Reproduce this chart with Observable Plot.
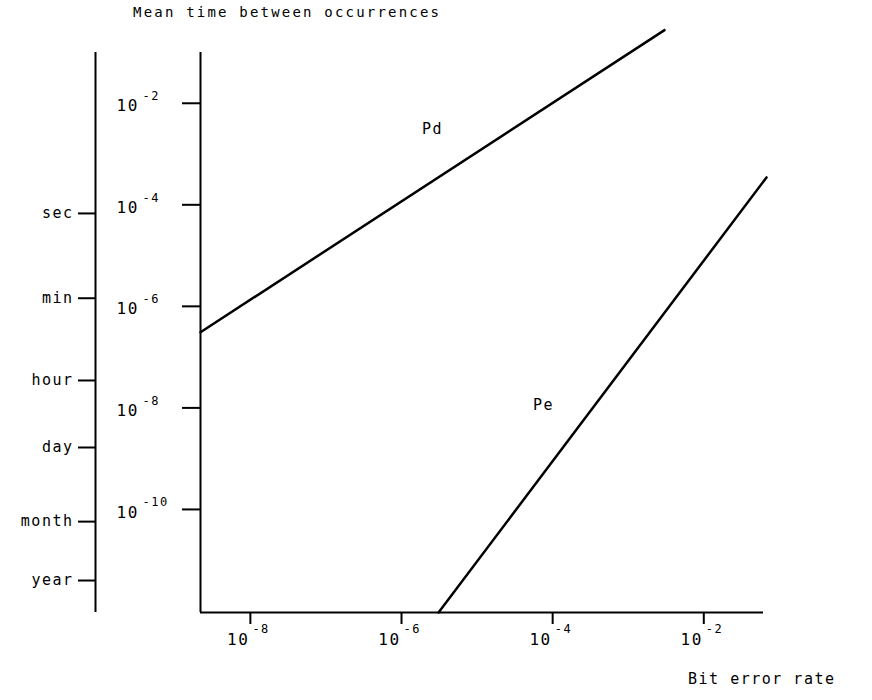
<!DOCTYPE html>
<html><head><meta charset="utf-8">
<script src="https://cdn.jsdelivr.net/npm/d3@7"></script>
<script src="https://cdn.jsdelivr.net/npm/@observablehq/plot@0.6"></script>
<style>
body{margin:0;background:#fff;font-family:"DejaVu Sans Mono",monospace;color:#000;}
#title{height:26px;padding-left:133px;font-size:14px;letter-spacing:2.2px;line-height:25px;white-space:nowrap;}
#chart svg{display:block;}
</style></head><body>
<div id="title">Mean time between occurrences</div>
<div id="chart"></div>
<script>
// Data
const berTicks = [1e-8, 1e-6, 1e-4, 1e-2];
const probTicks = [1e-2, 1e-4, 1e-6, 1e-8, 1e-10];
const timeLabels = ["sec", "min", "hour", "day", "month", "year"];
const timeProb = [10**-4.17, 10**-5.84, 10**-7.46, 10**-8.78, 10**-10.24, 10**-11.40];
const pdBer = [10**-8.66, 10**-2.52];
const pdProb = [10**-6.51, 10**-0.56];
const peBer = [10**-5.51, 10**-1.17];
const peProb = [10**-12.03, 10**-3.46];
const curveNames = ["Pd", "Pe"];
const labelBer = [10**-5.59, 10**-4.12];
const labelProb = [10**-2.51, 10**-7.95];
const xDomain = [10**-8.66, 10**-1.21];
const yDomain = [10**-12.03, 10**-1];
const xTitle = "Bit error rate";

const expo = d => String(Math.round(Math.log10(d)));
const timeMap = new Map(timeProb.map((v, i) => [v, timeLabels[i]]));

const pd = pdBer.map((x, i) => ({x, y: pdProb[i]}));
const pe = peBer.map((x, i) => ({x, y: peProb[i]}));
const labels = curveNames.map((name, i) => ({name, x: labelBer[i], y: labelProb[i]}));

const chart = Plot.plot({
  width: 872,
  height: 674,
  marginTop: 26,
  marginBottom: 88,
  marginLeft: 200,
  marginRight: 109,
  style: {fontFamily: "'DejaVu Sans Mono', monospace", fontSize: "15px", background: "white", color: "black", letterSpacing: "1.5px", overflow: "visible"},
  x: {type: "log", domain: xDomain},
  y: {type: "log", domain: yDomain},
  marks: [
    // x axis: ticks, "10" base plus raised exponent
    Plot.axisX(berTicks, {tickSize: 12, tickFormat: () => "", strokeWidth: 2, label: null}),
    Plot.text(berTicks, {x: d => d, frameAnchor: "bottom", text: () => "10", textAnchor: "end", lineAnchor: "middle", dx: -1, dy: 27, fontSize: 16}),
    Plot.text(berTicks, {x: d => d, frameAnchor: "bottom", text: expo, textAnchor: "start", lineAnchor: "middle", dx: 2, dy: 17, fontSize: 12, letterSpacing: "3px"}),
    // main y axis
    Plot.axisY(probTicks, {tickSize: 18, tickFormat: () => "", strokeWidth: 2, label: null}),
    Plot.text(probTicks, {y: d => d, frameAnchor: "left", text: () => "10", textAnchor: "start", lineAnchor: "middle", dx: -84, dy: 3, fontSize: 16}),
    Plot.text(probTicks, {y: d => d, frameAnchor: "left", text: expo, textAnchor: "start", lineAnchor: "middle", dx: -58, dy: -7, fontSize: 12, letterSpacing: "3px"}),
    // time axis
    Plot.axisY(timeProb, {tickSize: 17, tickPadding: 5, dx: -105, tickFormat: d => timeMap.get(d), strokeWidth: 2, label: null, fontSize: 15}),
    Plot.ruleX([xDomain[0]], {strokeWidth: 2}),
    Plot.ruleX([xDomain[0]], {dx: -105, strokeWidth: 2}),
    Plot.ruleY([yDomain[0]], {strokeWidth: 2}),
    Plot.line(pd, {x: "x", y: "y", strokeWidth: 2.5}),
    Plot.line(pe, {x: "x", y: "y", strokeWidth: 2.5}),
    Plot.text(labels, {x: "x", y: "y", text: "name", fontSize: 15}),
    Plot.text([xTitle], {frameAnchor: "bottom-right", dx: 72, dy: 71, textAnchor: "end", fontSize: 15, letterSpacing: "2.4px"})
  ]
});
document.getElementById("chart").appendChild(chart);
</script>
</body></html>
